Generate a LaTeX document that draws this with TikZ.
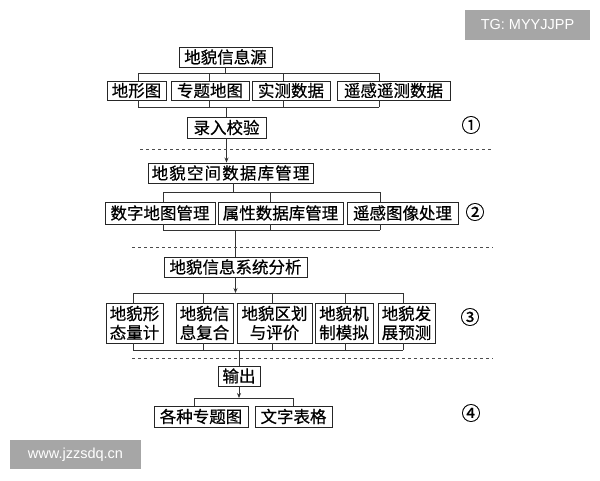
\documentclass[tikz,border=0pt]{standalone}
\usepackage{fontspec}
\newfontfamily\cjk[FakeBold=0.6]{Noto Sans CJK SC}
\newfontfamily\symf{DejaVu Serif}
\newfontfamily\wmf{Liberation Sans}
\usetikzlibrary{arrows.meta}
\begin{document}
\begin{tikzpicture}[x=1pt,y=-1pt,
  box/.style={draw=black!85,line width=0.9pt,inner sep=0pt,align=center,
    font=\cjk\fontsize{16.5}{19}\selectfont},
  wh/.style 2 args={minimum width=#1pt,minimum height=#2pt},
  conn/.style={draw=black!80,line width=0.8pt},
  arr/.style={conn,-{Stealth[length=5pt,width=4pt]}},
  sepline/.style={draw=black!70,line width=0.8pt,dash pattern=on 3pt off 3pt},
  num/.style={font=\cjk\fontsize{19}{19}\selectfont},
  wmark/.style={fill=black!35,text=white,inner sep=0pt,font=\wmf\fontsize{14.5}{14.5}\selectfont}]
\useasboundingbox (0,0) rectangle (600,480);
\fill[white] (0,0) rectangle (600,480);

% ---------- section 1 ----------
\node[box,wh={93}{20}] (src) at (225.5,57) {地貌信息源};
\node[box,wh={59}{19}] (a1) at (136.5,90.5) {地形图};
\node[box,wh={78}{19}] (a2) at (210,90.5) {专题地图};
\node[box,wh={78}{19}] (a3) at (291,90.5) {实测数据};
\node[box,wh={113}{19}] (a4) at (393.5,90.5) {遥感遥测数据};
\node[box,wh={79}{21}] (chk) at (226.5,127.5) {录入校验};

\coordinate (ta1) at (138,73);  \coordinate (ta2) at (209,73);
\coordinate (ta3) at (283,73);  \coordinate (ta4) at (379,73);
\coordinate (ba1) at (138,107); \coordinate (ba2) at (209,107);
\coordinate (ba3) at (283,107); \coordinate (ba4) at (379,107);
\draw[conn] (ta1) -- (ta4);
\draw[conn] (ba1) -- (ba4);
\draw[conn] (src.south) -- (src.south |- ta1);
\foreach \t/\b/\n in {ta1/ba1/a1,ta2/ba2/a2,ta3/ba3/a3,ta4/ba4/a4}{
  \draw[conn] (\t) -- (\t |- \n.north);
  \draw[conn] (\b) -- (\b |- \n.south);
}
\draw[conn] (chk.north |- ba1) -- (chk.north);

% ---------- section 2 ----------
\node[box,wh={165}{20}] (db) at (230.5,173) {\addfontfeature{LetterSpace=7}地貌空间数据库管理};
\node[box,wh={110}{22}] (b1) at (160,213) {数字地图管理};
\node[box,wh={125}{22}] (b2) at (280.5,213) {属性数据库管理};
\node[box,wh={111}{22}] (b3) at (402.5,213) {遥感图像处理};
\draw[arr] (chk.south) -- (chk.south |- db.north);

\coordinate (tb1) at (163,192); \coordinate (tb2) at (270,192); \coordinate (tb3) at (380,192);
\coordinate (bb1) at (163,230); \coordinate (bb2) at (270,230); \coordinate (bb3) at (380,230);
\coordinate (dbo) at (233,183);
\draw[conn] (tb1) -- (tb3);
\draw[conn] (bb1) -- (bb3);
\draw[conn] (dbo) -- (dbo |- tb1);
\foreach \t/\b/\n in {tb1/bb1/b1,tb2/bb2/b2,tb3/bb3/b3}{
  \draw[conn] (\t) -- (\t |- \n.north);
  \draw[conn] (\b) -- (\b |- \n.south);
}

\node[box,wh={143}{20}] (ana) at (235.5,267) {地貌信息系统分析};
\draw[conn] (ana.north |- bb1) -- (ana.north);

% ---------- section 3 ----------
\node[box,wh={57}{40}] (c1) at (134.5,323) {地貌形\\态量计};
\node[box,wh={57}{40}] (c2) at (204.5,323) {地貌信\\息复合};
\node[box,wh={75}{40}] (c3) at (274.5,323) {地貌区划\\与评价};
\node[box,wh={58}{40}] (c4) at (344,323) {地貌机\\制模拟};
\node[box,wh={57}{40}] (c5) at (406.5,323) {地貌发\\展预测};

\coordinate (tc1) at (133,293); \coordinate (tc2) at (203,293); \coordinate (tc3) at (272,293);
\coordinate (tc4) at (345,293); \coordinate (tc5) at (403,293);
\coordinate (bc1) at (133,350); \coordinate (bc2) at (203,350); \coordinate (bc3) at (272,350);
\coordinate (bc4) at (345,350); \coordinate (bc5) at (403,350);
\draw[conn] (tc1) -- (tc5);
\draw[conn] (bc1) -- (bc5);
\draw[arr] (ana.south) -- (ana.south |- tc1);
\foreach \t/\b/\n in {tc1/bc1/c1,tc2/bc2/c2,tc3/bc3/c3,tc4/bc4/c4,tc5/bc5/c5}{
  \draw[conn] (\t) -- (\t |- \n.north);
  \draw[conn] (\b) -- (\b |- \n.south);
}

% ---------- section 4 ----------
\node[box,wh={42}{20}] (out) at (239,376) {输出};
\draw[conn] (out.north |- bc1) -- (out.north);
\node[box,wh={94}{21}] (d1) at (201,416.5) {各种专题图};
\node[box,wh={77}{21}] (d2) at (293.5,416.5) {文字表格};
\coordinate (td1) at (194,398); \coordinate (td2) at (293,398);
\draw[conn] (td1) -- (td2);
\draw[arr] (out.south) -- (out.south |- td1);
\draw[conn] (td1) -- (td1 |- d1.north);
\draw[conn] (td2) -- (td2 |- d2.north);

% ---------- separators ----------
\draw[sepline] (140,149) -- (493,149);
\draw[sepline] (132,247) -- (493,247);
\draw[sepline] (132,358) -- (493,358);

% ---------- stage numbers ----------
\node[num] (n1) at (471,125) {①};
\node[num] (n2) at (475,212) {②};
\node[num] (n3) at (470,317) {③};
\node[num] (n4) at (471,413) {④};

% ---------- watermarks ----------
\node[wmark,minimum width=125pt,minimum height=30pt] (wm1) at (527.5,25) {TG: MYYJJPP};
\node[wmark,minimum width=131pt,minimum height=29pt] (wm2) at (75.5,454.5) {www.jzzsdq.cn};
\end{tikzpicture}
\end{document}
